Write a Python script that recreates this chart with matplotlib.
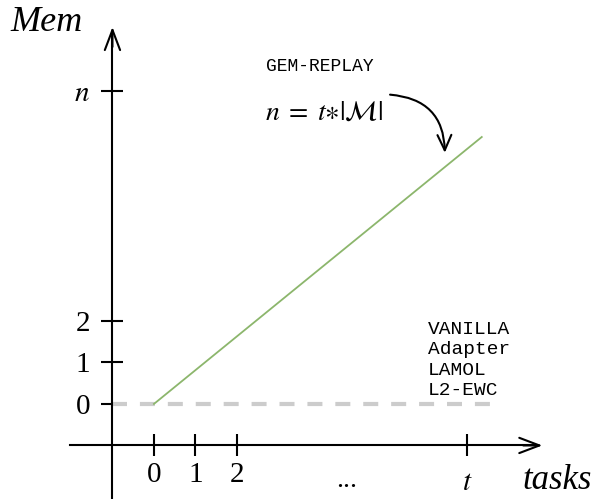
import matplotlib.pyplot as plt
from matplotlib.transforms import ScaledTranslation

plt.rcParams['mathtext.fontset'] = 'stix'

# data (schematic units, one task = one memory unit)
t_val = 7.54
task_ticks = [0, 1, 2, t_val]
task_labels = ['0', '1', '2', '$t$']
mem_ticks = [0, 1, 2, t_val]
mem_labels = ['0', '1', '2', '$n$']

gem_x = [0, 7.9]
gem_y = [0, 6.43]
flat_x = [-1, 8.27]
flat_y = [0, 0]
flat_methods = ['VANILLA', 'Adapter', 'LAMOL', 'L2-EWC']

fig = plt.figure(figsize=(6.05, 4.99), dpi=100)
ax = fig.add_axes([0, 0, 1, 1])
ax.set_xlim(-3.71, 10.87)
ax.set_ylim(-2.29, 9.73)

serif = ['Liberation Serif', 'DejaVu Serif']
mono = ['Liberation Mono', 'DejaVu Sans Mono']

# axes through (-1, -1)
for s in ['top', 'right']:
    ax.spines[s].set_visible(False)
ax.spines['left'].set_position(('data', -1))
ax.spines['bottom'].set_position(('data', -1))
ax.spines['left'].set_bounds(-2.29, 8.9)
ax.spines['bottom'].set_bounds(-2.02, 9.2)
for s in ['left', 'bottom']:
    ax.spines[s].set_linewidth(1.5)
head = '->,head_length=1.45,head_width=0.55'
ax.annotate('', xy=(9.36, -1), xytext=(8.9, -1),
            arrowprops=dict(arrowstyle=head, lw=1.5, color='black', shrinkA=0, shrinkB=0))
ax.annotate('', xy=(-1, 9.08), xytext=(-1, 8.6),
            arrowprops=dict(arrowstyle=head, lw=1.5, color='black', shrinkA=0, shrinkB=0))

ax.set_xticks(task_ticks)
ax.set_xticklabels(task_labels)
ax.set_yticks(mem_ticks)
ax.set_yticklabels(mem_labels)
ax.tick_params(direction='inout', length=16, width=1.5, labelsize=21)
ax.tick_params(axis='x', pad=4)
ax.tick_params(axis='y', pad=8)
for lab in ax.get_xticklabels() + ax.get_yticklabels():
    lab.set_family(serif)
# the t label sits a bit lower in the reference
t_lab = ax.get_xticklabels()[-1]
t_lab.set_transform(t_lab.get_transform() + ScaledTranslation(0, -6 / 72, fig.dpi_scale_trans))

# series
ax.plot(flat_x, flat_y, color='#cccccc', lw=3, dashes=(3.6, 3.1), solid_capstyle='butt')
ax.plot(gem_x, gem_y, color='#8cb66c', lw=1.3)

# labels
ax.text(-2.58, 9.2, 'Mem', fontsize=26, style='italic', family=serif, ha='center', va='center')
ax.text(9.71, -1.85, 'tasks', fontsize=25, style='italic', family=serif, ha='center', va='center')
ax.text(4.65, -1.85, '...', fontsize=20, family=serif, ha='center', va='center')

ax.text(3.99, 8.12, 'GEM-REPLAY', fontsize=13, family=mono, ha='center', va='center')
ax.text(4.1, 7.05, r'$n\;=\;t{\ast}|\mathcal{M}|$', fontsize=20, ha='center', va='center')
ax.annotate('', xy=(7.01, 6.05), xytext=(5.69, 7.45),
            arrowprops=dict(arrowstyle='->,head_length=1.1,head_width=0.5', lw=1.5, color='black',
                            connectionstyle='arc3,rad=-0.45', shrinkA=0, shrinkB=0))

ax.text(6.6, 1.06, '\n'.join(flat_methods), fontsize=14, family=mono, ha='left', va='center',
        linespacing=1.27)

plt.savefig('out.png', dpi=100)
